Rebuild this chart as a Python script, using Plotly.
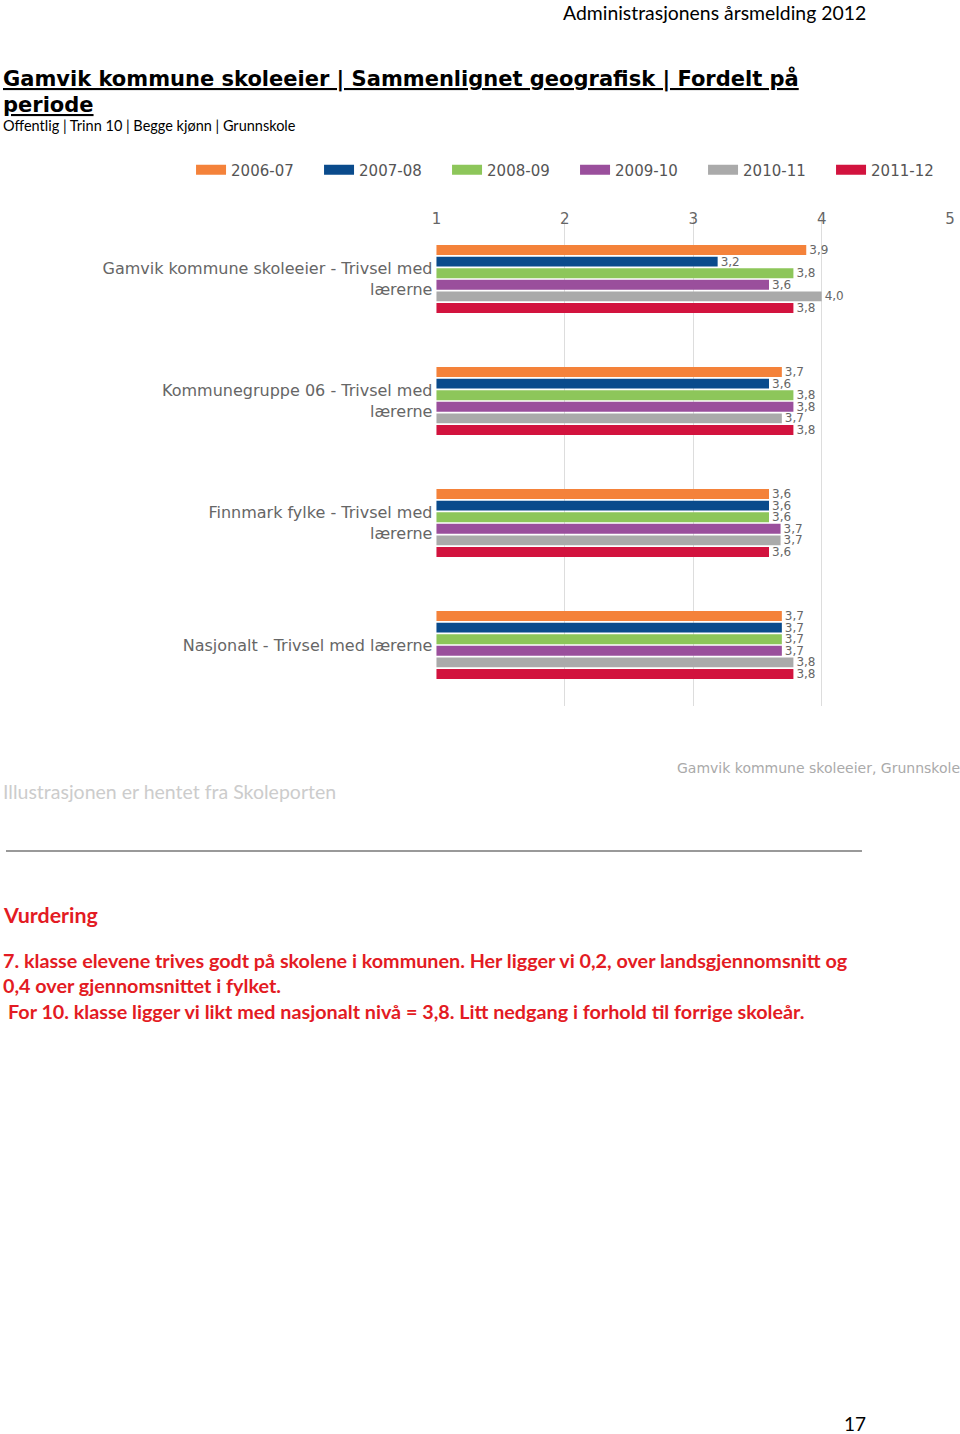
import plotly.graph_objects as go

categories = [
    "Gamvik kommune skoleeier - Trivsel med<br>lærerne",
    "Kommunegruppe 06 - Trivsel med<br>lærerne",
    "Finnmark fylke - Trivsel med<br>lærerne",
    "Nasjonalt - Trivsel med lærerne",
]
periods = ["2006-07", "2007-08", "2008-09", "2009-10", "2010-11", "2011-12"]
colors = ["#f4823a", "#0a4b8c", "#8dc65a", "#9a4f9c", "#aaaaaa", "#d2133e"]

# values per period, order follows categories
v_2006_07 = [3.88, 3.69, 3.59, 3.69]
v_2007_08 = [3.19, 3.59, 3.59, 3.69]
v_2008_09 = [3.78, 3.78, 3.59, 3.69]
v_2009_10 = [3.59, 3.78, 3.68, 3.69]
v_2010_11 = [4.00, 3.69, 3.68, 3.78]
v_2011_12 = [3.78, 3.78, 3.59, 3.78]
series = [v_2006_07, v_2007_08, v_2008_09, v_2009_10, v_2010_11, v_2011_12]

x_ticks = [1, 2, 3, 4, 5]

W, H = 960, 1434

def px_x(p):
    return p / W

def px_y(p):
    return 1 - p / H

fig = go.Figure()
for name, col, vals in zip(periods, colors, series):
    fig.add_trace(go.Bar(
        y=categories, x=vals, name=name, orientation="h",
        legendgroup=name, showlegend=False,
        marker=dict(color=col, line=dict(width=0)),
        text=[f"{v:.1f}".replace(".", ",") for v in vals],
        textposition="outside", constraintext="none", cliponaxis=False,
        textfont=dict(family="DejaVu Sans", size=12, color="#666666"),
        hoverinfo="skip",
    ))
# legend entries with wide rectangular swatches
for name, col in zip(periods, colors):
    fig.add_trace(go.Scatter(
        x=[None], y=[None], mode="lines", name=name, legendgroup=name,
        line=dict(color=col, width=13), hoverinfo="skip", showlegend=True,
    ))

fig.update_layout(
    width=W, height=H,
    margin=dict(l=0, r=0, t=0, b=0),
    paper_bgcolor="white", plot_bgcolor="white",
    barmode="group", bargap=0.43, bargroupgap=0.15,
    showlegend=True,
    legend=dict(
        orientation="h", x=px_x(188), y=px_y(170), xanchor="left", yanchor="middle",
        entrywidth=83, entrywidthmode="pixels", traceorder="normal",
        itemwidth=30,
        font=dict(family="DejaVu Sans", size=15, color="#555555"),
        bgcolor="rgba(0,0,0,0)",
    ),
    xaxis=dict(
        domain=[px_x(436), px_x(955)], range=[1, 5], side="top",
        tickvals=x_ticks, ticktext=[str(t) for t in x_ticks],
        showgrid=True, gridcolor="#dddddd", gridwidth=1, zeroline=False,
        showline=False, ticks="", ticklabelstandoff=-10,
        tickfont=dict(family="DejaVu Sans", size=15, color="#666666"),
    ),
    yaxis=dict(
        domain=[px_y(706), px_y(218)], autorange="reversed",
        categoryorder="array", categoryarray=categories,
        showgrid=False, zeroline=False, showline=False, ticks="",
        ticklabelstandoff=3,
        tickfont=dict(family="DejaVu Sans", size=16, color="#666666"),
    ),
)

def note(text, x, y, size, color="#000000", family="Lato", xanchor="left", yanchor="middle"):
    fig.add_annotation(
        text=text, x=px_x(x), y=px_y(y), xref="paper", yref="paper",
        xanchor=xanchor, yanchor=yanchor, align="left", showarrow=False,
        borderpad=0,
        font=dict(family=family, size=size, color=color),
    )

note("Administrasjonens årsmelding 2012", 871, 12, 19.4, xanchor="right")
note("<b><u>Gamvik kommune skoleeier | Sammenlignet geografisk | Fordelt på</u></b>", -3, 79, 21, family="DejaVu Sans")
note("<b><u>periode</u></b>", -3, 105, 21, family="DejaVu Sans")
note("Offentlig | Trinn 10 | Begge kjønn | Grunnskole", -3, 126, 14.5)
note("Illustrasjonen er hentet fra Skoleporten", -3, 791, 19.5, color="#cccccc")
note("Gamvik kommune skoleeier, Grunnskole", 966, 768, 14, color="#aaaaaa", family="DejaVu Sans", xanchor="right")

fig.add_shape(type="line", xref="paper", yref="paper",
              x0=px_x(1), x1=px_x(866), y0=px_y(851), y1=px_y(851),
              line=dict(color="#999999", width=2))

red = "#e31b23"
note("<b>Vurdering</b>", -3, 915, 21.4, color=red)
note("<b>7. klasse elevene trives godt på skolene i kommunen. Her ligger vi 0,2, over landsgjennomsnitt og</b>", -3, 960, 19.75, color=red)
note("<b>0,4 over gjennomsnittet i fylket.</b>", -3, 985, 19.75, color=red)
note("<b>For 10. klasse ligger vi likt med nasjonalt nivå = 3,8. Litt nedgang i forhold til forrige skoleår.</b>", 2, 1011, 19.75, color=red)
note("17", 871, 1436, 19, xanchor="right", yanchor="bottom")

fig.write_html("out.html")
